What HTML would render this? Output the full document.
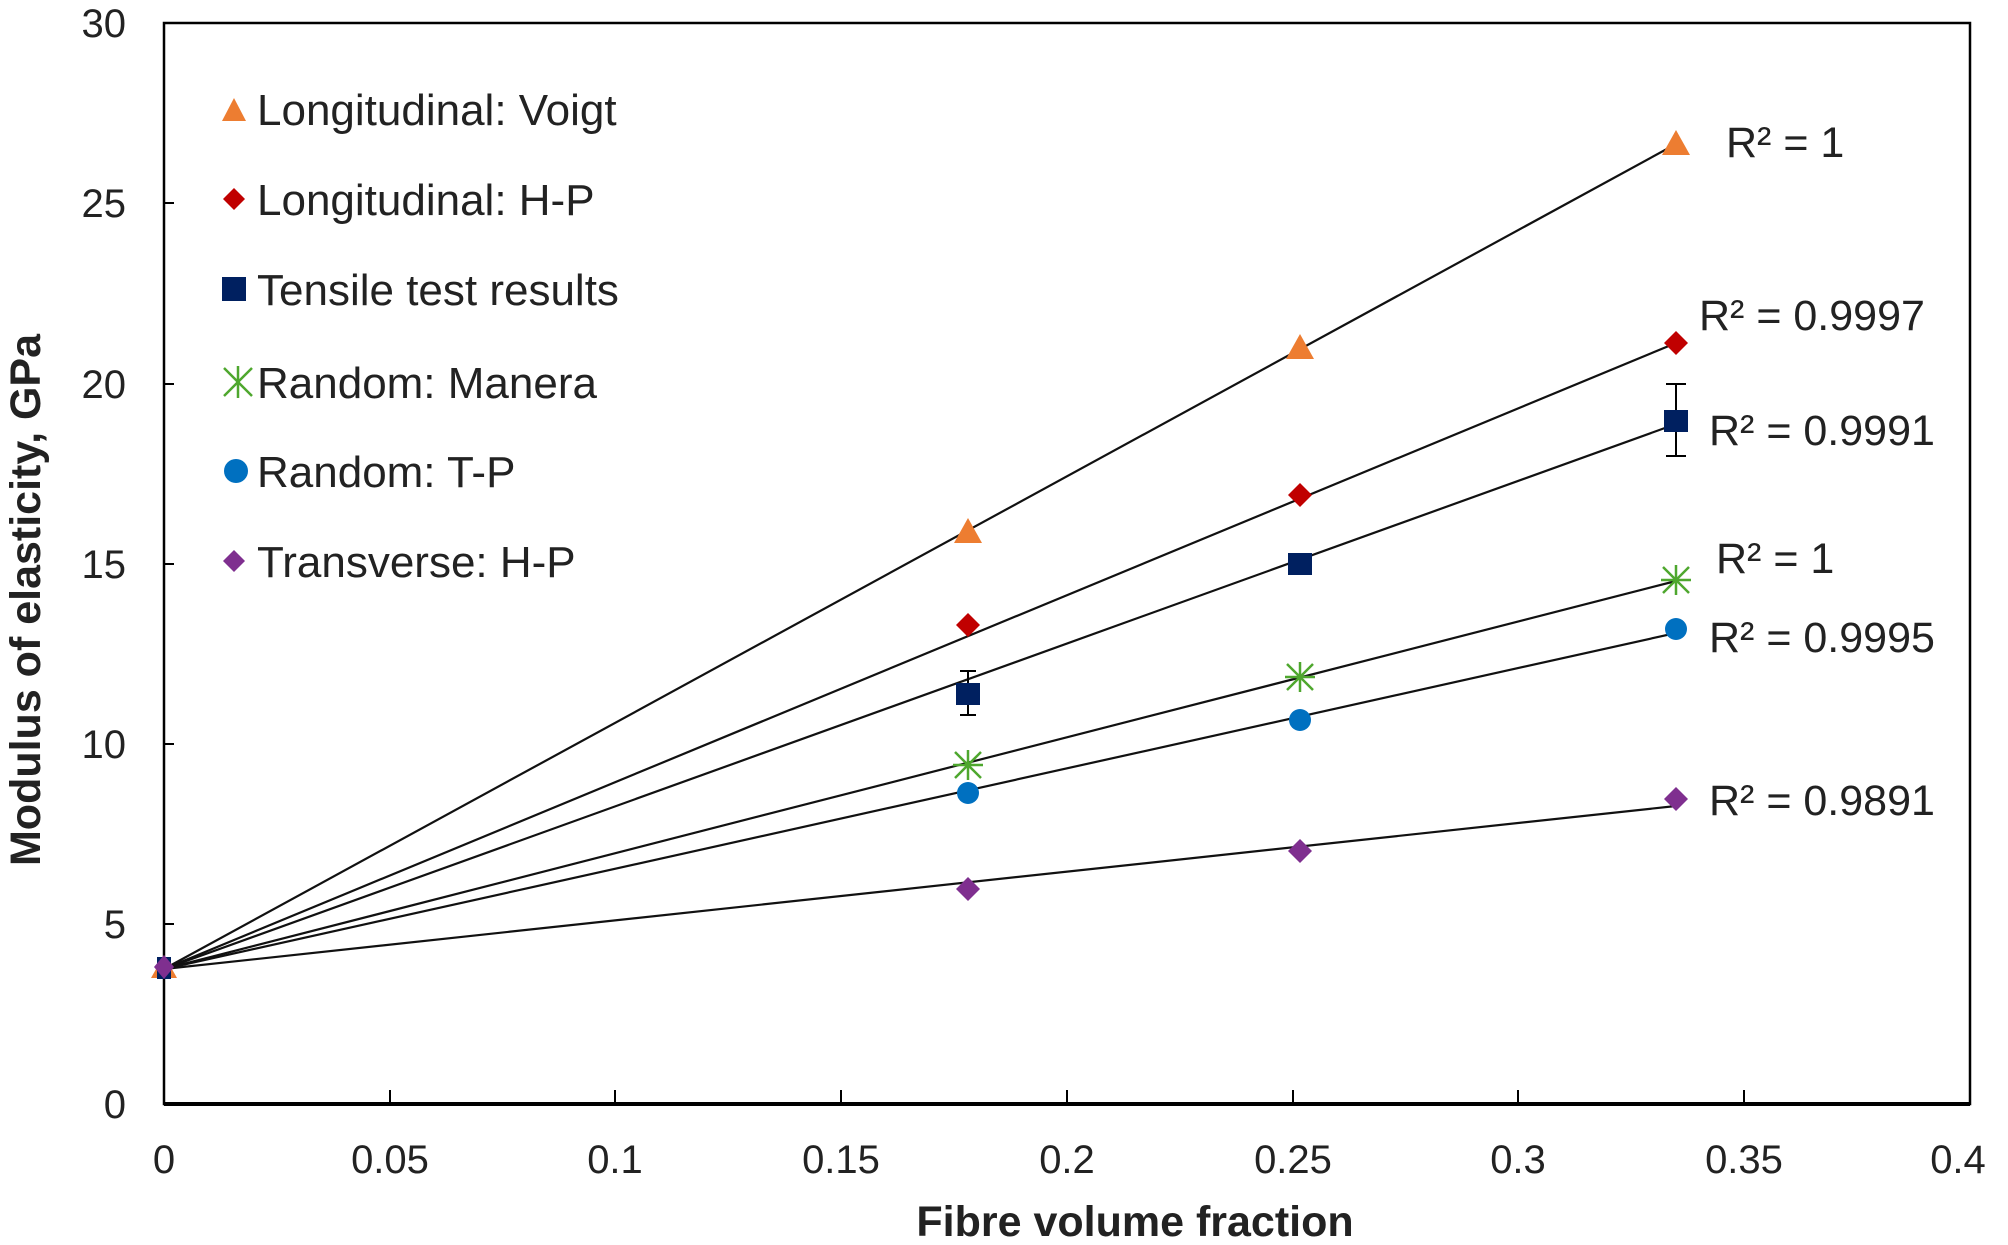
<!DOCTYPE html>
<html><head><meta charset="utf-8"><style>
html,body{margin:0;padding:0;background:#fff;}
svg{display:block;font-family:"Liberation Sans",Arial,sans-serif;}
</style></head><body>
<svg width="2008" height="1245" viewBox="0 0 2008 1245" xmlns="http://www.w3.org/2000/svg">
<rect x="0" y="0" width="2008" height="1245" fill="#fff"/>
<rect x="164" y="23" width="1806" height="1081" fill="none" stroke="#000" stroke-width="2.5"/>
<line x1="164" y1="1104" x2="1970" y2="1104" stroke="#000" stroke-width="4"/>
<g stroke="#000" stroke-width="2">
<line x1="164" y1="924" x2="174" y2="924"/><line x1="164" y1="744" x2="174" y2="744"/>
<line x1="164" y1="564" x2="174" y2="564"/><line x1="164" y1="384" x2="174" y2="384"/>
<line x1="164" y1="203" x2="174" y2="203"/>
<line x1="390" y1="1104" x2="390" y2="1090"/><line x1="615" y1="1104" x2="615" y2="1090"/>
<line x1="841" y1="1104" x2="841" y2="1090"/><line x1="1067" y1="1104" x2="1067" y2="1090"/>
<line x1="1293" y1="1104" x2="1293" y2="1090"/><line x1="1518" y1="1104" x2="1518" y2="1090"/>
<line x1="1744" y1="1104" x2="1744" y2="1090"/>
</g>
<g font-size="40" fill="#222" text-anchor="end">
<text x="126" y="1118">0</text><text x="126" y="938">5</text><text x="126" y="758">10</text>
<text x="126" y="578">15</text><text x="126" y="398">20</text><text x="126" y="217">25</text>
<text x="126" y="37">30</text>
</g>
<g font-size="40" fill="#222" text-anchor="middle">
<text x="164" y="1173">0</text><text x="390" y="1173">0.05</text><text x="615" y="1173">0.1</text>
<text x="841" y="1173">0.15</text><text x="1067" y="1173">0.2</text><text x="1293" y="1173">0.25</text>
<text x="1518" y="1173">0.3</text><text x="1744" y="1173">0.35</text><text x="1958" y="1173">0.4</text>
</g>
<text x="1135" y="1236" font-size="43" font-weight="bold" fill="#222" text-anchor="middle">Fibre volume fraction</text>
<text transform="translate(40,600) rotate(-90)" font-size="43" font-weight="bold" fill="#222" text-anchor="middle">Modulus of elasticity, GPa</text>
<g stroke="#111" stroke-width="2.2">
<line x1="164" y1="969" x2="1676" y2="144"/>
<line x1="164" y1="969" x2="1676" y2="343"/>
<line x1="164" y1="969" x2="1676" y2="424"/>
<line x1="164" y1="969" x2="1676" y2="581"/>
<line x1="164" y1="969" x2="1676" y2="633"/>
<line x1="164" y1="969" x2="1676" y2="806"/>
</g>
<g stroke="#000" stroke-width="2">
<line x1="968" y1="671" x2="968" y2="715"/><line x1="960" y1="671" x2="976" y2="671"/><line x1="960" y1="715" x2="976" y2="715"/>
<line x1="1676" y1="384" x2="1676" y2="456"/><line x1="1666" y1="384" x2="1686" y2="384"/><line x1="1666" y1="456" x2="1686" y2="456"/>
</g>
<g fill="#ED7D31">
<polygon points="164,955 151,978 177,978"/>
<polygon points="968,518 954,543 982,543"/>
<polygon points="1300,334 1286,359 1314,359"/>
<polygon points="1676,130 1662,155 1690,155"/>
</g>
<g fill="#C00000">
<polygon points="968,613 980,625 968,637 956,625"/>
<polygon points="1300,483 1312,495 1300,507 1288,495"/>
<polygon points="1676,331 1688,343 1676,355 1664,343"/>
</g>
<g fill="#002060">
<rect x="157" y="957" width="14" height="22"/>
<rect x="956" y="683" width="24" height="22"/>
<rect x="1288" y="553" width="24" height="22"/>
<rect x="1664" y="410" width="24" height="22"/>
</g>
<g stroke="#4EA72E" stroke-width="2.5">
<g transform="translate(968,765)"><line x1="-15" y1="0" x2="15" y2="0"/><line x1="0" y1="-15" x2="0" y2="15"/><line x1="-13" y1="-13" x2="13" y2="13"/><line x1="-13" y1="13" x2="13" y2="-13"/></g>
<g transform="translate(1300,677)"><line x1="-13" y1="-13" x2="13" y2="13"/><line x1="-13" y1="13" x2="13" y2="-13"/><line x1="-15" y1="0" x2="15" y2="0"/><line x1="0" y1="-15" x2="0" y2="15"/></g>
<g transform="translate(1676,580)"><line x1="-13" y1="-13" x2="13" y2="13"/><line x1="-13" y1="13" x2="13" y2="-13"/><line x1="-15" y1="0" x2="15" y2="0"/><line x1="0" y1="-15" x2="0" y2="15"/></g>
</g>
<g fill="#0070C0">
<circle cx="968" cy="793" r="11"/><circle cx="1300" cy="720" r="11"/><circle cx="1676" cy="629" r="11"/>
</g>
<g fill="#7F2F8F">
<polygon points="164,955 174,967 164,979 154,967"/>
<polygon points="968,877 980,889 968,901 956,889"/>
<polygon points="1300,839 1312,851 1300,863 1288,851"/>
<polygon points="1676,787 1688,799 1676,811 1664,799"/>
</g>
<g font-size="43" fill="#222">
<text x="1726" y="157">R² = 1</text>
<text x="1699" y="330">R² = 0.9997</text>
<text x="1709" y="445">R² = 0.9991</text>
<text x="1716" y="573">R² = 1</text>
<text x="1709" y="652">R² = 0.9995</text>
<text x="1709" y="815">R² = 0.9891</text>
</g>
<g font-size="44" fill="#222">
<polygon points="234,98 222,121 246,121" fill="#ED7D31"/>
<text x="257" y="125">Longitudinal: Voigt</text>
<polygon points="234,188 245,199 234,210 223,199" fill="#C00000"/>
<text x="257" y="215">Longitudinal: H-P</text>
<rect x="222" y="277" width="24" height="24" fill="#002060"/>
<text x="257" y="305">Tensile test results</text>
<g stroke="#4EA72E" stroke-width="2.5" transform="translate(238,382)"><line x1="-14" y1="-14" x2="14" y2="14"/><line x1="-14" y1="14" x2="14" y2="-14"/><line x1="0" y1="-16" x2="0" y2="16"/></g>
<text x="257" y="398">Random: Manera</text>
<circle cx="236" cy="471" r="12" fill="#0070C0"/>
<text x="257" y="487">Random: T-P</text>
<polygon points="234,550 245,561 234,572 223,561" fill="#7F2F8F"/>
<text x="257" y="577">Transverse: H-P</text>
</g>
</svg>
</body></html>
